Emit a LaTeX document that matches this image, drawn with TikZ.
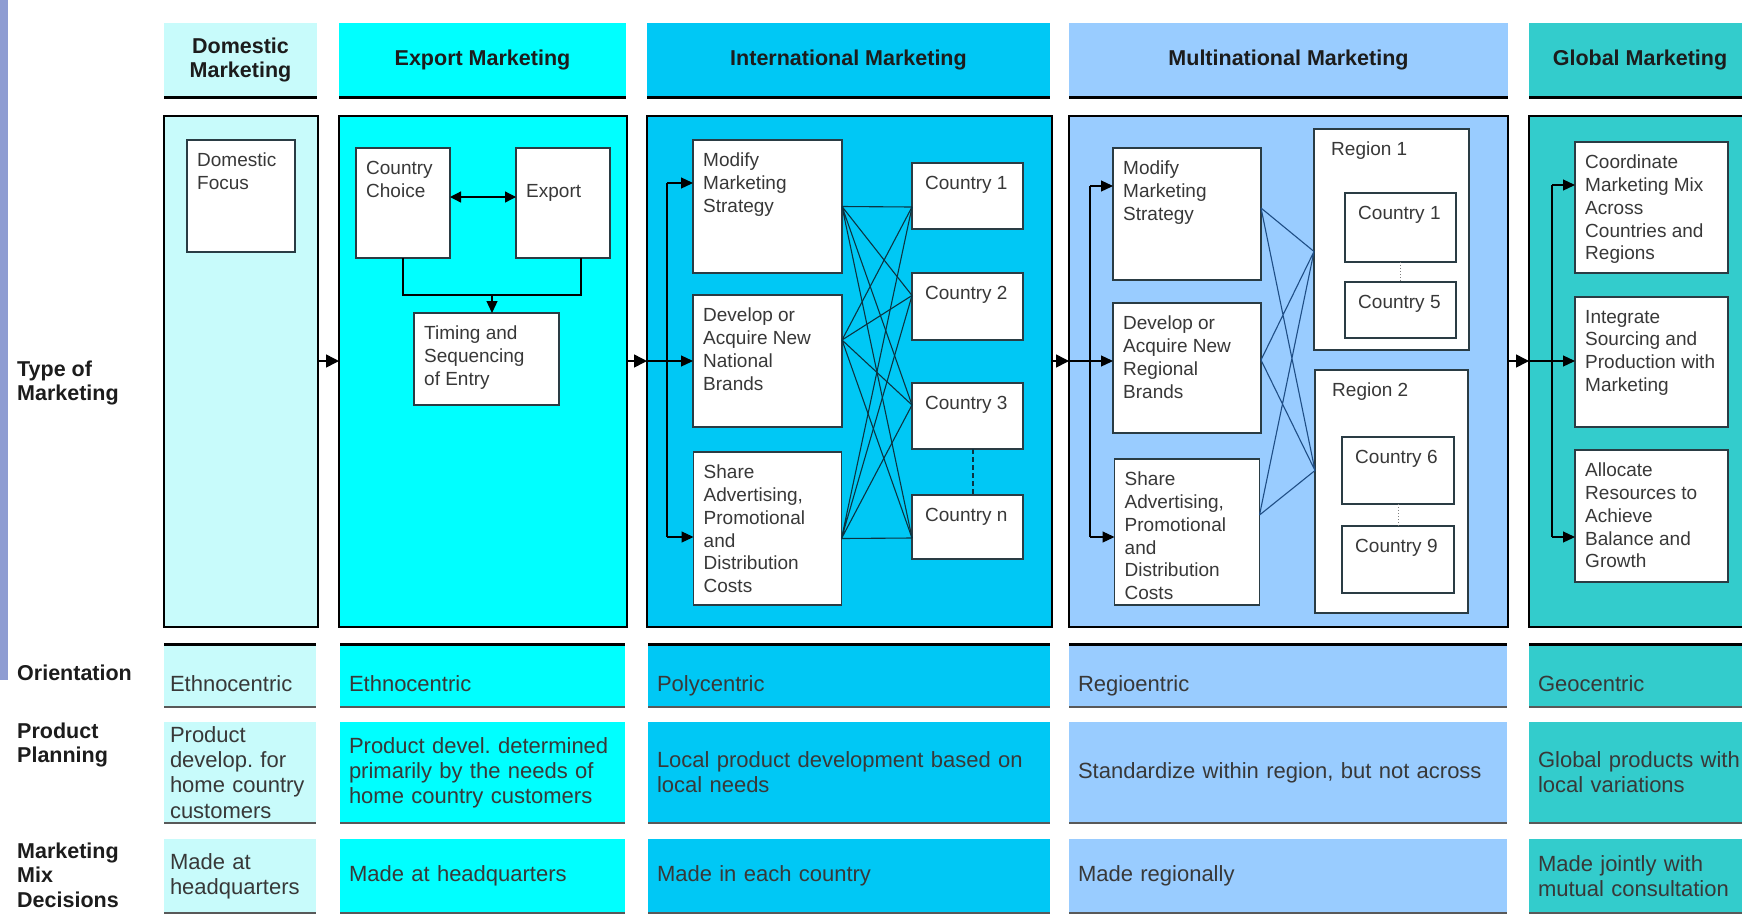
\documentclass[tikz,border=0pt]{standalone}
\usepackage{fontspec}
\setmainfont{Liberation Sans}
\usetikzlibrary{arrows.meta,positioning}
\frenchspacing

\definecolor{domfill}{HTML}{C8FBFB}
\definecolor{expfill}{HTML}{00FFFF}
\definecolor{intfill}{HTML}{00C8F5}
\definecolor{mulfill}{HTML}{99CCFF}
\definecolor{glofill}{HTML}{33CCCC}
\definecolor{sidebar}{HTML}{8E9CD2}
\definecolor{bodyink}{HTML}{383838}
\definecolor{headink}{HTML}{1C1C1C}
\definecolor{boxedge}{HTML}{2A3C44}
\definecolor{intlink}{HTML}{0B3442}
\definecolor{mullink}{HTML}{1F4E85}

\begin{document}
\begin{tikzpicture}[x=1pt, y=-1pt]

% Styles
\tikzset{
  header/.style={
    anchor=north west,
    minimum height=74pt,
    inner sep=0pt,
    outer sep=0pt,
    align=center,
    text=headink,
    font=\fontsize{21.5}{24.4}\selectfont\bfseries
  },
  panel/.style={
    anchor=north west,
    draw=black,
    line width=2.5pt,
    minimum height=511pt,
    inner sep=0pt,
    outer sep=0pt
  },
  ibox/.style={
    anchor=north west,
    draw=boxedge,
    line width=1.2pt,
    fill=white,
    inner sep=0pt,
    outer sep=0pt
  },
  itext/.style={
    anchor=north west,
    align=left,
    inner xsep=10pt,
    inner ysep=13pt,
    text=bodyink,
    font=\fontsize{19}{22.7}\selectfont
  },
  cell/.style={
    anchor=north west,
    inner xsep=9pt,
    inner ysep=0pt,
    outer sep=0pt,
    align=left,
    text=bodyink,
    font=\fontsize{22}{25.2}\selectfont
  },
  rowlabel/.style={
    anchor=west,
    align=left,
    inner sep=0pt,
    text=headink,
    font=\fontsize{21.5}{24.4}\selectfont\bfseries
  },
  arr/.style={
    -{Triangle[length=12pt, width=11pt]},
    line width=1.2pt
  },
  bigarr/.style={
    -{Triangle[length=13pt, width=13pt]},
    line width=1.5pt
  },
  dblarr/.style={
    {Triangle[length=11pt, width=11pt]}-{Triangle[length=11pt, width=11pt]},
    line width=1.3pt
  },
  link/.style={line width=1.1pt},
  hline/.style={line width=3pt, draw=black},
  rline/.style={line width=2pt, draw=black!65}
}

\useasboundingbox (0,0) rectangle (1742,919);
\clip (0,0) rectangle (1742,919);
\fill[white] (0,0) rectangle (1742,919);

% Side strip
\fill[sidebar] (0,0) rectangle (8,680);

% Column headers
\node[header, fill=domfill, minimum width=153pt] (hdom) at (164,23) {Domestic\\Marketing};
\node[header, fill=expfill, minimum width=287pt, right=22pt of hdom] (hexp) {Export Marketing};
\node[header, fill=intfill, minimum width=403pt, right=21pt of hexp] (hint) {International Marketing};
\node[header, fill=mulfill, minimum width=439pt, right=19pt of hint] (hmul) {Multinational Marketing};
\node[header, fill=glofill, minimum width=222pt, right=21pt of hmul] (hglo) {Global Marketing};
\draw[hline] (hdom.south west) -- (hdom.south east)
  (hexp.south west) -- (hexp.south east)
  (hint.south west) -- (hint.south east)
  (hmul.south west) -- (hmul.south east)
  (hglo.south west) -- ([xshift=30pt]hglo.south east);

% Type of marketing panels
\node[panel, fill=domfill, minimum width=154pt] (tdom) at (164,116) {};
\node[panel, fill=expfill, minimum width=288pt, right=21pt of tdom] (texp) {};
\node[panel, fill=intfill, minimum width=405pt, right=20pt of texp] (tint) {};
\node[panel, fill=mulfill, minimum width=439pt, right=17pt of tint] (tmul) {};
\node[panel, fill=glofill, minimum width=260pt, right=21pt of tmul] (tglo) {};

% Domestic
\node[ibox, minimum width=108pt, minimum height=112pt,
  label={[itext]north west:{Domestic\\Focus}}] (dfocus) at (187,140) {};

% Export
\node[ibox, minimum width=94pt, minimum height=110pt,
  label={[itext]north west:{Country\\Choice}}] (cchoice) at (356,148) {};
\node[ibox, minimum width=94pt, minimum height=110pt,
  label={[itext, yshift=-23pt]north west:{Export}}] (export) at (516,148) {};
\node[ibox, minimum width=145pt, minimum height=92pt,
  label={[itext]north west:{Timing and\\Sequencing\\of Entry}}] (timing) at (414,313) {};
\coordinate (join) at (492,295);
\draw[dblarr] ([yshift=6pt]cchoice.east) -- ([yshift=6pt]export.west);
\draw[link] (cchoice.south) |- (join) -| ([xshift=18pt]export.south);
\draw[arr] (join) -- (join |- timing.north);

% International
\node[ibox, minimum width=149pt, minimum height=133pt,
  label={[itext]north west:{Modify\\Marketing\\Strategy}}] (intmod) at (693,140) {};
\node[ibox, minimum width=149pt, minimum height=132pt, below=22pt of intmod,
  label={[itext]north west:{Develop or\\Acquire New\\National\\Brands}}] (intdev) {};
\node[ibox, minimum width=148pt, minimum height=153pt, below=25pt of intdev,
  label={[itext]north west:{Share\\Advertising,\\Promotional\\and\\Distribution\\Costs}}] (intshare) {};
\node[ibox, minimum width=111pt, minimum height=66pt,
  label={[itext, inner xsep=13pt]north west:{Country 1}}] (intc1) at (912,163) {};
\node[ibox, minimum width=111pt, minimum height=67pt, below=44pt of intc1,
  label={[itext, inner xsep=13pt]north west:{Country 2}}] (intc2) {};
\node[ibox, minimum width=111pt, minimum height=66pt, below=43pt of intc2,
  label={[itext, inner xsep=13pt]north west:{Country 3}}] (intc3) {};
\node[ibox, minimum width=111pt, minimum height=64pt, below=46pt of intc3,
  label={[itext, inner xsep=13pt]north west:{Country n}}] (intcn) {};

\coordinate (ia) at (intmod.east);
\coordinate (ib) at ([yshift=21pt]intdev.east);
\coordinate (ic) at ([yshift=-10pt]intshare.east);
\coordinate (ja) at ([yshift=-11pt]intc1.west);
\coordinate (jb) at ([yshift=11pt]intc2.west);
\coordinate (jc) at ([yshift=11pt]intc3.west);
\coordinate (jd) at ([yshift=-11pt]intcn.west);
\draw[link, intlink] (ia) -- (ja) (ia) -- (jb) (ia) -- (jc) (ia) -- (jd);
\draw[link, intlink] (ib) -- (ja) (ib) -- (jb) (ib) -- (jc) (ib) -- (jd);
\draw[link, intlink] (ic) -- (ja) (ic) -- (jb) (ic) -- (jc) (ic) -- (jd);
\draw[intlink, line width=2pt, dash pattern=on 5pt off 3pt]
  ([xshift=5pt]intc3.south) -- ([xshift=5pt]intcn.north);

% Multinational
\node[ibox, minimum width=148pt, minimum height=132pt,
  label={[itext]north west:{Modify\\Marketing\\Strategy}}] (mulmod) at (1113,148) {};
\node[ibox, minimum width=148pt, minimum height=130pt, below=23pt of mulmod,
  label={[itext]north west:{Develop or\\Acquire New\\Regional\\Brands}}] (muldev) {};
\node[ibox, minimum width=145pt, minimum height=146pt, below=26pt of muldev,
  label={[itext]north west:{Share\\Advertising,\\Promotional\\and\\Distribution\\Costs}}] (mulshare) {};
\node[ibox, minimum width=155pt, minimum height=221pt,
  label={[itext, inner xsep=17pt]north west:{Region 1}}] (reg1) at (1314,129) {};
\node[ibox, minimum width=153pt, minimum height=243pt, below=20pt of reg1,
  label={[itext, inner xsep=17pt]north west:{Region 2}}] (reg2) {};
\node[ibox, minimum width=111pt, minimum height=69pt,
  label={[itext, inner xsep=13pt]north west:{Country 1}}] (reg1a) at (1345,193) {};
\node[ibox, minimum width=111pt, minimum height=56pt, below=20pt of reg1a,
  label={[itext, inner xsep=13pt]north west:{Country 5}}] (reg1b) {};
\node[ibox, minimum width=112pt, minimum height=67pt,
  label={[itext, inner xsep=13pt]north west:{Country 6}}] (reg2a) at (1342,437) {};
\node[ibox, minimum width=112pt, minimum height=67pt, below=22pt of reg2a,
  label={[itext, inner xsep=13pt]north west:{Country 9}}] (reg2b) {};
\draw[dotted, gray, line width=1pt] (reg1a.south) -- (reg1a.south |- reg1b.north);
\draw[dotted, gray, line width=1pt] (reg2a.south) -- (reg2a.south |- reg2b.north);

\coordinate (ma) at ([yshift=6pt]mulmod.east);
\coordinate (mb) at ([yshift=8pt]muldev.east);
\coordinate (mc) at ([yshift=17pt]mulshare.east);
\coordinate (na) at ([yshift=-12pt]reg1.west);
\coordinate (nb) at ([yshift=21pt]reg2.west);
\draw[link, mullink] (ma) -- (na) (ma) -- (nb)
  (mb) -- (na) (mb) -- (nb)
  (mc) -- (na) (mc) -- (nb);

% Global
\node[ibox, minimum width=153pt, minimum height=131pt,
  label={[itext]north west:{Coordinate\\Marketing Mix\\Across\\Countries and\\Regions}}] (glocoord) at (1575,142) {};
\node[ibox, minimum width=153pt, minimum height=130pt, below=24pt of glocoord,
  label={[itext]north west:{Integrate\\Sourcing and\\Production with\\Marketing}}] (gloint) {};
\node[ibox, minimum width=153pt, minimum height=132pt, below=23pt of gloint,
  label={[itext]north west:{Allocate\\Resources to\\Achieve\\Balance and\\Growth}}] (gloalloc) {};

% Arrows between panels
\coordinate (midrow) at (0,361);
\draw[bigarr] (tdom.east |- midrow) -- (texp.west |- midrow);
\draw[bigarr] (texp.east |- midrow) -- (tint.west |- midrow);
\draw[bigarr] (tint.east |- midrow) -- (tmul.west |- midrow);
\draw[bigarr] (tmul.east |- midrow) -- (tglo.west |- midrow);

% Fan-out rails
\coordinate (itop) at (667,183);
\coordinate (ibot) at (667,537);
\draw[link] (itop) -- (ibot);
\draw[arr] (itop) -- (itop -| intmod.west);
\draw[arr] (tint.west |- midrow) -- (intdev.west |- midrow);
\draw[arr] (ibot) -- (ibot -| intshare.west);

\coordinate (mtop) at (1090,186);
\coordinate (mbot) at (1090,537);
\draw[link] (mtop) -- (mbot);
\draw[arr] (mtop) -- (mtop -| mulmod.west);
\draw[arr] (tmul.west |- midrow) -- (muldev.west |- midrow);
\draw[arr] (mbot) -- (mbot -| mulshare.west);

\coordinate (gtop) at (1552,185);
\coordinate (gbot) at (1552,537);
\draw[link] (gtop) -- (gbot);
\draw[arr] (gtop) -- (gtop -| glocoord.west);
\draw[arr] (tglo.west |- midrow) -- (gloint.west |- midrow);
\draw[arr] (gbot) -- (gbot -| gloalloc.west);

% Orientation row
\node[cell, fill=domfill, minimum height=63pt, text width=140pt, inner xsep=6pt, text height=31pt, text depth=0pt] (odom) at (164,644) {Ethnocentric};
\node[cell, fill=expfill, minimum height=63pt, text width=267pt, text height=31pt, text depth=0pt, right=24pt of odom] (oexp) {Ethnocentric};
\node[cell, fill=intfill, minimum height=63pt, text width=384pt, text height=31pt, text depth=0pt, right=23pt of oexp] (oint) {Polycentric};
\node[cell, fill=mulfill, minimum height=63pt, text width=420pt, text height=31pt, text depth=0pt, right=19pt of oint] (omul) {Regioentric};
\node[cell, fill=glofill, minimum height=63pt, text width=222pt, text height=31pt, text depth=0pt, right=22pt of omul] (oglo) {Geocentric};

% Product planning row
\node[cell, fill=domfill, minimum height=101pt, text width=140pt, inner xsep=6pt, below=15pt of odom] (pdom) {Product\\develop.\ for\\home country\\customers};
\node[cell, fill=expfill, minimum height=101pt, text width=267pt, below=15pt of oexp] (pexp) {Product devel.\ determined\\primarily by the needs of\\home country customers};
\node[cell, fill=intfill, minimum height=101pt, text width=384pt, below=15pt of oint] (pint) {Local product development based on\\local needs};
\node[cell, fill=mulfill, minimum height=101pt, text width=420pt, below=15pt of omul] (pmul) {Standardize within region, but not across};
\node[cell, fill=glofill, minimum height=101pt, text width=222pt, below=15pt of oglo] (pglo) {Global products with\\local variations};

% Marketing mix row
\node[cell, fill=domfill, minimum height=74pt, text width=140pt, inner xsep=6pt, below=16pt of pdom] (mdom) {Made at\\headquarters};
\node[cell, fill=expfill, minimum height=74pt, text width=267pt, below=16pt of pexp] (mexp) {Made at headquarters};
\node[cell, fill=intfill, minimum height=74pt, text width=384pt, below=16pt of pint] (mint) {Made in each country};
\node[cell, fill=mulfill, minimum height=74pt, text width=420pt, below=16pt of pmul] (mmul) {Made regionally};
\node[cell, fill=glofill, minimum height=74pt, text width=222pt, below=16pt of pglo] (mglo) {Made jointly with\\mutual consultation};

% Row rules
\draw[hline] (odom.north west) -- (odom.north east)
  (oexp.north west) -- (oexp.north east)
  (oint.north west) -- (oint.north east)
  (omul.north west) -- (omul.north east)
  (oglo.north west) -- (oglo.north east);
\draw[rline] (odom.south west) -- (odom.south east)
  (oexp.south west) -- (oexp.south east)
  (oint.south west) -- (oint.south east)
  (omul.south west) -- (omul.south east)
  (oglo.south west) -- (oglo.south east);
\draw[rline] (pdom.south west) -- (pdom.south east)
  (pexp.south west) -- (pexp.south east)
  (pint.south west) -- (pint.south east)
  (pmul.south west) -- (pmul.south east)
  (pglo.south west) -- (pglo.south east);
\draw[rline] (mdom.south west) -- (mdom.south east)
  (mexp.south west) -- (mexp.south east)
  (mint.south west) -- (mint.south east)
  (mmul.south west) -- (mmul.south east)
  (mglo.south west) -- (mglo.south east);

% Row labels
\node[rowlabel] (ltype) at (17,383) {Type of\\Marketing};
\node[rowlabel] (lorient) at (17,673) {Orientation};
\node[rowlabel] (lplan) at (17,745) {Product\\Planning};
\node[rowlabel] (lmix) at (17,875) {Marketing\\Mix\\Decisions};

\end{tikzpicture}
\end{document}
